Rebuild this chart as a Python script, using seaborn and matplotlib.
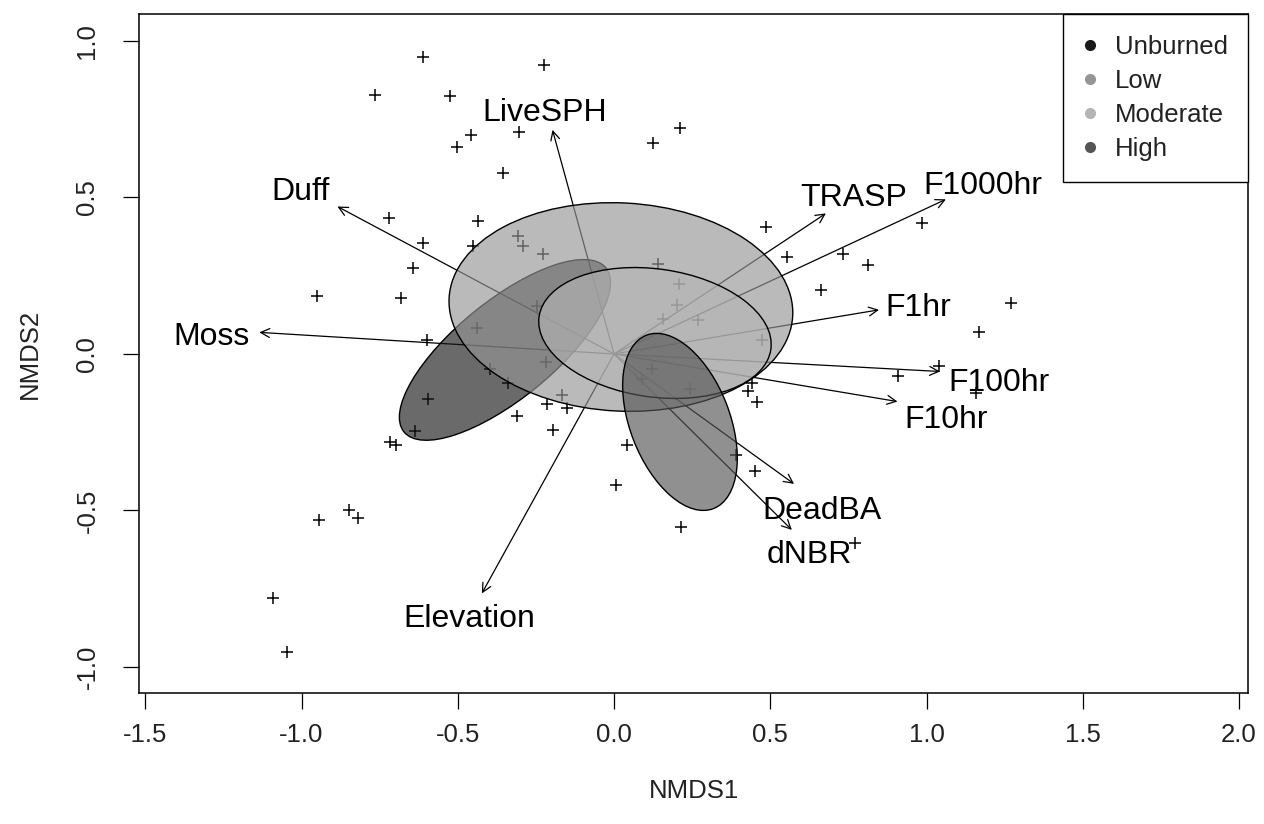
import matplotlib
matplotlib.use("Agg")
import matplotlib.pyplot as plt
from matplotlib.patches import Ellipse
from matplotlib.lines import Line2D
from matplotlib.colors import to_rgba
import numpy as np
import pandas as pd
import seaborn as sns

# NMDS site scores
nmds1 = [-0.612, -0.223, -0.764, -0.525, -0.459, -0.501, -0.303, -0.356, -0.719, -0.434,
         -0.610, -0.452, -0.642, -0.951, -0.683, -0.600, 0.211, 0.124, 0.486, 0.555,
         0.732, 0.814, 0.661, 0.985, 1.269, 1.168, 1.041, 1.158, 0.910, -0.596,
         -0.637, -0.717, -0.698, -0.311, -0.215, -0.151, -0.194, 0.006, 0.041, 0.214,
         0.390, 0.451, 0.430, 0.441, 0.459, 0.771, -0.847, -0.820, -0.944, -1.092,
         -1.047, -0.306, -0.290, -0.226, -0.247, -0.439, 0.142, 0.208, 0.200, 0.156,
         0.268, 0.473, -0.397, -0.338, -0.218, -0.167, 0.121, 0.243, 0.089]
nmds2 = [0.950, 0.923, 0.827, 0.824, 0.700, 0.662, 0.708, 0.577, 0.433, 0.426,
         0.354, 0.345, 0.276, 0.186, 0.180, 0.045, 0.723, 0.675, 0.404, 0.311,
         0.318, 0.284, 0.204, 0.417, 0.162, 0.071, -0.040, -0.124, -0.070, -0.145,
         -0.245, -0.280, -0.291, -0.197, -0.160, -0.174, -0.243, -0.419, -0.291, -0.552,
         -0.323, -0.374, -0.118, -0.094, -0.154, -0.603, -0.498, -0.525, -0.530, -0.781,
         -0.951, 0.378, 0.345, 0.319, 0.153, 0.082, 0.288, 0.224, 0.157, 0.112,
         0.109, 0.045, -0.049, -0.094, -0.027, -0.131, -0.048, -0.113, -0.081]

# Fitted environmental vectors (envfit arrows) and their label anchors
vectors = ["LiveSPH", "Duff", "Moss", "TRASP", "F1000hr", "F1hr",
           "F100hr", "F10hr", "DeadBA", "dNBR", "Elevation"]
vec_x = [-0.197, -0.885, -1.135, 0.678, 1.062, 0.848, 1.043, 0.907, 0.576, 0.569, -0.423]
vec_y = [0.716, 0.471, 0.069, 0.449, 0.494, 0.141, -0.056, -0.152, -0.415, -0.562, -0.765]
lab_x = [-0.221, -1.003, -1.289, 0.768, 1.181, 0.973, 1.232, 1.062, 0.667, 0.624, -0.464]
lab_y = [0.780, 0.527, 0.064, 0.508, 0.546, 0.157, -0.083, -0.200, -0.492, -0.632, -0.837]

# Burn-severity group dispersion ellipses
severity = ["Unburned", "Low", "Moderate", "High"]
sev_colors = ["#1a1a1a", "#969696", "#b4b4b4", "#555555"]
ell_cx = [-0.349, 0.022, 0.131, 0.211]
ell_cy = [0.013, 0.150, 0.067, -0.217]
ell_w = [0.832, 1.101, 0.749, 0.594]
ell_h = [0.313, 0.665, 0.409, 0.319]
ell_angle = [39.0, -3.0, -8.0, -68.8]

x_ticks = [-1.5, -1.0, -0.5, 0.0, 0.5, 1.0, 1.5, 2.0]
y_ticks = [-1.0, -0.5, 0.0, 0.5, 1.0]

sns.set_theme(style="ticks")
plt.rcParams["font.family"] = ["Liberation Sans", "DejaVu Sans"]
plt.rcParams["axes.unicode_minus"] = False

fig = plt.figure(figsize=(12.64, 8.24), dpi=100)
ax = fig.add_axes([0.1100, 0.1590, 0.8774, 0.8240])

sites = pd.DataFrame({"NMDS1": nmds1, "NMDS2": nmds2})
sns.scatterplot(data=sites, x="NMDS1", y="NMDS2", marker="+", color="black",
                s=75, linewidth=1.1, ax=ax, zorder=2)

# envfit arrows from the origin
for vx, vy in zip(vec_x, vec_y):
    ax.annotate("", xy=(vx, vy), xytext=(0, 0),
                arrowprops=dict(arrowstyle="->,head_length=0.4,head_width=0.2",
                                color="black", lw=0.9, shrinkA=0, shrinkB=0,
                                mutation_scale=16),
                zorder=2.5)

# semi-transparent group ellipses, drawn in group order
for i, (cx, cy, w, h, ang, col) in enumerate(zip(ell_cx, ell_cy, ell_w, ell_h,
                                                 ell_angle, sev_colors)):
    e = Ellipse((cx, cy), w, h, angle=ang, facecolor=to_rgba(col, 0.65),
                edgecolor="black", lw=1.0, zorder=4 + i)
    ax.add_patch(e)

# vector labels (anchored at the centre of the capitals)
for name, lx, ly in zip(vectors, lab_x, lab_y):
    ax.annotate(name, (lx, ly), xytext=(0, -8.2), textcoords="offset points",
                ha="center", va="baseline", fontsize=23, color="black", zorder=10)

ax.set_xlim(-1.520, 2.029)
ax.set_ylim(-1.083, 1.086)
ax.set_xticks(x_ticks)
ax.set_yticks(y_ticks)
ax.set_xticklabels([f"{t:.1f}" for t in x_ticks])
ax.set_yticklabels([f"{t:.1f}" for t in y_ticks], rotation=90, va="center")
ax.tick_params(axis="both", which="major", length=11.5, width=0.9, color="black",
               labelsize=18.5, labelcolor="#222222", direction="out")
ax.tick_params(axis="x", pad=10)
ax.tick_params(axis="y", pad=17)
for sp in ax.spines.values():
    sp.set_visible(True)
    sp.set_color("black")
    sp.set_linewidth(1.1)

ax.set_xlabel("NMDS1", fontsize=18.5, color="#222222", labelpad=23)
ax.set_ylabel("NMDS2", fontsize=18.5, color="#222222", labelpad=24)

handles = [Line2D([0], [0], marker="o", linestyle="none", markersize=7,
                  markerfacecolor=c, markeredgecolor=c) for c in sev_colors]
leg = ax.legend(handles, severity, loc="upper right", borderaxespad=0,
                fontsize=18.5, frameon=True, fancybox=False, framealpha=1,
                edgecolor="black", handlelength=0.5, handletextpad=0.7,
                labelspacing=0.4, borderpad=0.8)
leg.get_frame().set_linewidth(1.0)
leg.set_zorder(20)
for t in leg.get_texts():
    t.set_color("#222222")

fig.savefig("out.png", dpi=100, facecolor="white")
